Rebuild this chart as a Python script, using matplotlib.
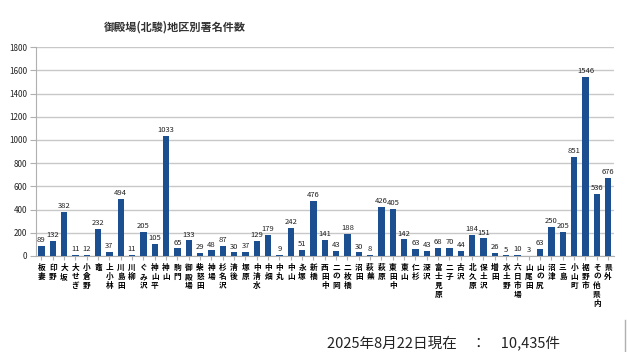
import matplotlib
matplotlib.use("Agg")
import matplotlib.pyplot as plt
from matplotlib.lines import Line2D

plt.rcParams['font.family'] = ['Noto Sans CJK JP', 'DejaVu Sans']

areas = ["板妻", "印野", "大坂", "大せぎ", "小倉野", "竈", "上小林", "川島田", "川柳", "ぐみ沢",
         "神山平", "神山", "駒門", "御殿場", "柴怒田", "神場", "杉名沢", "清後", "塚原", "中清水",
         "中畑", "中丸", "中山", "永塚", "新橋", "西田中", "二の岡", "二枚橋", "沼田", "萩蕪",
         "萩原", "東田中", "東山", "仁杉", "深沢", "富士見原", "二子", "古沢", "北久原", "保土沢",
         "増田", "水土野", "六日市場", "山尾田", "山の尻", "沼津", "三島", "小山町", "裾野市",
         "その他県内", "県外"]
counts = [89, 132, 382, 11, 12, 232, 37, 494, 11, 205,
          105, 1033, 65, 133, 29, 48, 87, 30, 37, 129,
          179, 9, 242, 51, 476, 141, 43, 188, 30, 8,
          426, 405, 142, 63, 43, 68, 70, 44, 184, 151,
          26, 5, 10, 3, 63, 250, 205, 851, 1546,
          536, 676]
title = "御殿場(北駿)地区別署名件数"
footer = "2025年8月22日現在　：　10,435件"

fig = plt.figure(figsize=(6.27, 3.52), dpi=100)
ax = fig.add_axes([0.057, 0.273, 0.922, 0.593])

x = list(range(len(areas)))
ax.bar(x, counts, width=0.55, color="#1c4f8f", zorder=3)
for xi, v in zip(x, counts):
    ax.text(xi, v + 15, str(v), ha="center", va="bottom", fontsize=5.5, color="#222222")

ax.set_xlim(-0.5, len(areas) - 0.5)
ax.set_ylim(0, 1800)
ax.set_yticks(range(0, 1801, 200))
ax.yaxis.grid(True, color="#c8c8c8", linewidth=1.0, zorder=0)
ax.tick_params(axis="y", labelsize=5.8, length=4, color="#b0b0b0", labelcolor="#222222", pad=2)
ax.set_xticks(x)
ax.set_xticklabels(["\n".join(a) for a in areas], fontsize=5.5, fontweight="bold",
                   linespacing=1.0, va="top")
ax.tick_params(axis="x", length=3, color="#b0b0b0", pad=2)
for s in ["top", "right"]:
    ax.spines[s].set_visible(False)
ax.spines["left"].set_color("#b0b0b0")
ax.spines["bottom"].set_color("#b0b0b0")

fig.text(0.279, 0.922, title, ha="center", va="center", fontsize=8, fontweight="bold", color="#333333")
fig.text(0.522, 0.027, footer, ha="left", va="center", fontsize=10.5, color="#222222")
fig.add_artist(Line2D([0.997, 0.997], [0.0, 0.09], color="#b0b0b0", linewidth=1.0))

fig.savefig("out.png", dpi=100)
